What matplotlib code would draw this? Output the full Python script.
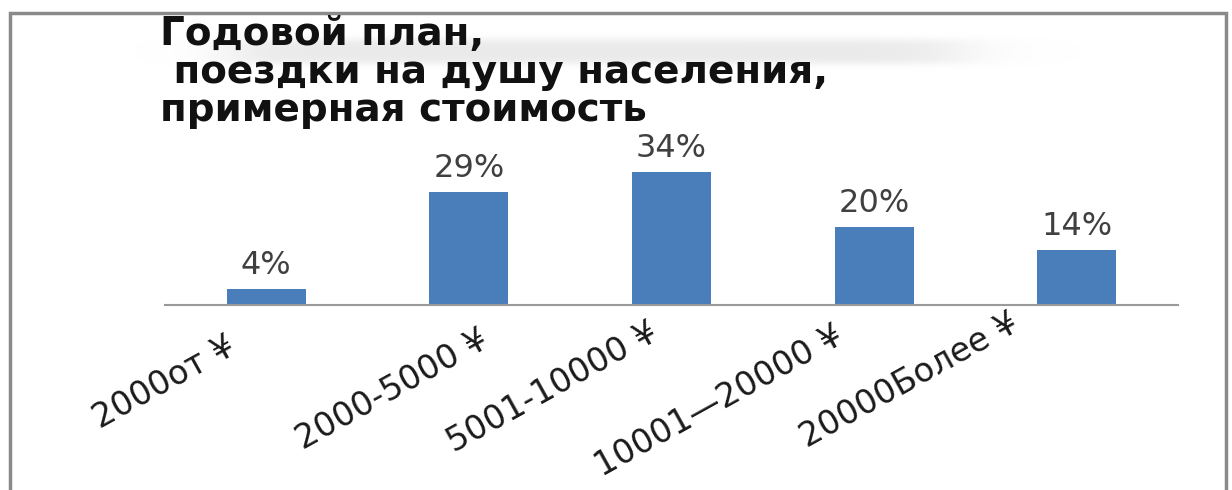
import numpy as np
import matplotlib
matplotlib.use("Agg")
import matplotlib.pyplot as plt
from matplotlib.transforms import ScaledTranslation
from matplotlib.patches import Rectangle

# Data
categories = ["2000от ¥", "2000-5000 ¥", "5001-10000 ¥", "10001—20000 ¥", "20000Более ¥"]
shares = [4, 29, 34, 20, 14]
title_lines = ["Годовой план,", " поездки на душу населения,", "примерная стоимость"]

# Layout: per-label nudges (pixels) for the rotated category labels
label_dx = [-34, 17, -16, -34, -61]
label_dy = [-40, -33, -26, -29, -16]

W, H, DPI = 1232, 490, 100
fig = plt.figure(figsize=(W / DPI, H / DPI), dpi=DPI)
fig.patch.set_facecolor("white")

# Soft grey haze behind the upper title lines
bg = fig.add_axes([0, 0, 1, 1], zorder=-5)
bg.set_axis_off()
yy, xx = np.mgrid[0:H, 0:W]
haze = np.exp(-((yy - 52) / 13.0) ** 4) * (1 / (1 + np.exp(-(xx - 230) / 20.0))) \
    * (1 / (1 + np.exp((xx - 960) / 25.0)))
rgba = np.zeros((H, W, 4))
rgba[..., :3] = 0.82
rgba[..., 3] = 0.45 * haze
bg.imshow(rgba, extent=(0, W, H, 0), aspect="auto", interpolation="bilinear")
bg.set_xlim(0, W)
bg.set_ylim(H, 0)

# Outer frame
fig.add_artist(Rectangle((10 / W, -0.05), (1226 - 10) / W, 1.05 - 13 / H,
                         transform=fig.transFigure, fill=False,
                         edgecolor="#8a8a8a", linewidth=2.5))

ax = fig.add_axes([165 / W, 1 - 305 / H, (1178 - 165) / W, 170 / H])
ax.patch.set_alpha(0)
bar_color = "#4A7EBB"
x = list(range(len(categories)))
bars = ax.bar(x, shares, width=0.39, color=bar_color)
ax.set_xlim(-0.5, len(categories) - 0.5)
ax.set_ylim(0, 170 / 3.9)

for b, v in zip(bars, shares):
    ax.annotate(f"{v}%", (b.get_x() + b.get_width() / 2, v),
                xytext=(0, 6), textcoords="offset points",
                ha="center", va="bottom", fontsize=23, color="#404040")

for s in ["top", "right", "left"]:
    ax.spines[s].set_visible(False)
ax.spines["bottom"].set_color("#9a9a9a")
ax.spines["bottom"].set_linewidth(1.5)
ax.set_yticks([])
ax.set_xticks(x)
ax.set_xticklabels(categories, rotation=29, ha="right", va="center",
                   rotation_mode="anchor", fontsize=24, color="#1a1a1a")
ax.tick_params(axis="x", length=0, pad=0)
for lbl, dx, dy in zip(ax.get_xticklabels(), label_dx, label_dy):
    lbl.set_transform(lbl.get_transform() +
                      ScaledTranslation(dx / DPI, dy / DPI, fig.dpi_scale_trans))

# Title block, left aligned
fig.text(160 / W, 1 - 15 / H, "\n".join(title_lines), ha="left", va="top",
         fontsize=28, fontweight="bold", color="#111111",
         family="DejaVu Sans", linespacing=1.0)

fig.savefig("out.png", dpi=DPI)
